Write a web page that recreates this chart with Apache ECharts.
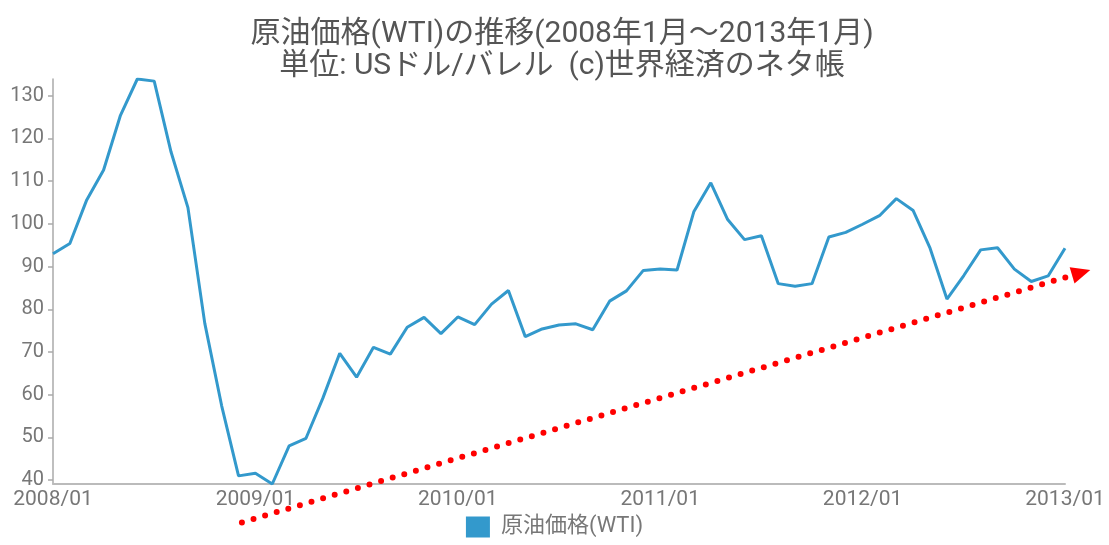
<!DOCTYPE html>
<html>
<head>
<meta charset="utf-8">
<title>原油価格(WTI)の推移</title>
<script src="https://cdn.jsdelivr.net/npm/echarts@6/dist/echarts.min.js"></script>
<style>
  html, body { margin: 0; padding: 0; background: #fff; }
  #chart { width: 1109px; height: 545px; }
</style>
</head>
<body>
<div id="chart"></div>
<script>
// WTI monthly average, USD per barrel, 2008/01 .. 2013/01
const months = [];
for (let y = 2008; y <= 2013; y++) {
  for (let m = 1; m <= 12; m++) {
    if (y === 2013 && m > 1) break;
    months.push(y + '/' + (m < 10 ? '0' + m : m));
  }
}
const prices = [
  93.0, 95.4, 105.6, 112.6, 125.4, 133.9, 133.4, 116.8, 103.8, 76.7, 57.4, 41.0,
  41.6, 39.1, 48.0, 49.8, 59.2, 69.7, 64.1, 71.1, 69.5, 75.8, 78.1, 74.3,
  78.2, 76.4, 81.2, 84.4, 73.6, 75.4, 76.3, 76.6, 75.2, 81.9, 84.3, 89.1,
  89.4, 89.2, 102.9, 109.6, 101.0, 96.3, 97.2, 86.0, 85.4, 86.0, 96.9, 98.0,
  99.9, 101.9, 105.9, 103.1, 94.3, 82.4, 87.9, 93.9, 94.4, 89.4, 86.5, 87.8,
  94.3
];
const yTicks = [40, 50, 60, 70, 80, 90, 100, 110, 120, 130];
const seriesName = '原油価格(WTI)';
const titleLines = ['原油価格(WTI)の推移(2008年1月～2013年1月)', '単位: USドル/バレル  (c)世界経済のネタ帳'];
// upward trend arrow, in (month index, price) units
const trendFrom = [11.2, 30.1];
const trendTo = [61.5, 89.2];

const font = "Roboto, 'Noto Sans CJK JP', sans-serif";
const yMin = Math.min(...prices);
const yMax = Math.max(...prices);

const chart = echarts.init(document.getElementById('chart'), null, { renderer: 'canvas' });

chart.setOption({
  animation: false,
  backgroundColor: '#fff',
  title: {
    text: titleLines.join('\n'),
    left: 557,
    top: 13,
    textAlign: 'center',
    textStyle: {
      fontFamily: font,
      fontSize: 30,
      fontWeight: 'normal',
      color: '#555',
      lineHeight: 32
    }
  },
  legend: {
    data: [seriesName],
    bottom: 2,
    left: 'center',
    icon: 'rect',
    itemWidth: 24,
    itemHeight: 21,
    textStyle: { fontFamily: font, fontSize: 22, color: '#777', padding: [0, 0, 0, 6] }
  },
  grid: { left: 53, right: 44, top: 79, bottom: 61, containLabel: false },
  xAxis: [
    {
      type: 'category',
      data: months,
      boundaryGap: false,
      axisLine: { lineStyle: { color: '#bbb', width: 2 } },
      axisTick: { show: false },
      splitLine: { show: false },
      axisLabel: {
        interval: (i, v) => v.endsWith('/01'),
        margin: 5,
        fontFamily: font,
        fontSize: 21,
        color: '#777'
      }
    },
    {
      // helper scale for the trend arrow (same span as the month axis)
      type: 'value',
      min: 0,
      max: months.length - 1,
      show: false
    }
  ],
  yAxis: {
    type: 'value',
    min: yMin,
    max: yMax,
    splitLine: { show: false },
    axisLine: { show: true, lineStyle: { color: '#aaa', width: 1.5 } },
    axisTick: { show: true, length: 5, customValues: yTicks, lineStyle: { color: '#aaa', width: 1.5 } },
    axisLabel: { customValues: yTicks, margin: 9, fontFamily: font, fontSize: 20, color: '#777' }
  },
  series: [
    {
      name: seriesName,
      type: 'line',
      data: prices,
      symbol: 'none',
      lineStyle: { color: '#3399cc', width: 3 },
      itemStyle: { color: '#3399cc' }
    },
    {
      name: 'trend',
      type: 'custom',
      xAxisIndex: 1,
      silent: true,
      clip: false,
      data: [[trendFrom[0], trendFrom[1], trendTo[0], trendTo[1]]],
      encode: { x: [0, 2], y: [1, 3] },
      renderItem: function (params, api) {
        const p0 = api.coord([api.value(0), api.value(1)]);
        const p1 = api.coord([api.value(2), api.value(3)]);
        const dx = p1[0] - p0[0], dy = p1[1] - p0[1];
        const len = Math.sqrt(dx * dx + dy * dy);
        const ux = dx / len, uy = dy / len;
        const headLen = 19, headHalf = 8.5;
        const bx = p1[0] - ux * headLen, by = p1[1] - uy * headLen;
        return {
          type: 'group',
          children: [
            {
              type: 'line',
              shape: { x1: p0[0], y1: p0[1], x2: bx - ux * 4, y2: by - uy * 4 },
              style: { stroke: '#ff0000', lineWidth: 6, lineDash: [0, 12.1], lineCap: 'round', fill: null }
            },
            {
              type: 'polygon',
              shape: { points: [[p1[0], p1[1]], [bx - uy * headHalf, by + ux * headHalf], [bx + uy * headHalf, by - ux * headHalf]] },
              style: { fill: '#ff0000' }
            }
          ]
        };
      }
    }
  ]
});
</script>
</body>
</html>
